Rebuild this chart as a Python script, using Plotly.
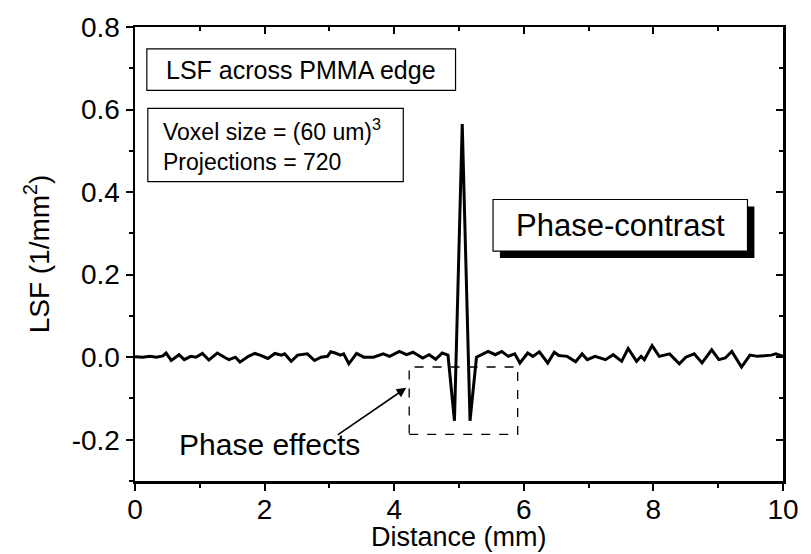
import plotly.graph_objects as go

# ---- data ----
distance_mm = [0.00, 0.12, 0.23, 0.33, 0.43, 0.48, 0.56, 0.68, 0.76, 0.86, 0.94,
               1.04, 1.14, 1.27, 1.40, 1.45, 1.55, 1.62, 1.75, 1.85, 1.95,
               2.05, 2.16, 2.26, 2.31, 2.41, 2.51, 2.56, 2.66, 2.77, 2.87, 2.97,
               3.02, 3.09, 3.17, 3.22, 3.30, 3.42, 3.53, 3.68, 3.78, 3.83, 3.93,
               4.08, 4.19, 4.29, 4.44, 4.54, 4.64, 4.74, 4.83, 4.93,
               5.05, 5.17, 5.27, 5.35, 5.45, 5.56, 5.66, 5.76, 5.86, 5.94,
               6.06, 6.14, 6.24, 6.37, 6.47, 6.54, 6.67, 6.80, 6.90, 6.98,
               7.10, 7.26, 7.38, 7.51, 7.61, 7.74, 7.81, 7.86, 7.98,
               8.09, 8.25, 8.40, 8.50, 8.63, 8.75, 8.90,
               9.01, 9.11, 9.21, 9.36, 9.49, 9.61, 9.82, 9.89, 10.00]
lsf = [0.001, 0.000, 0.002, 0.000, 0.003, 0.010, -0.008, 0.006, -0.006, 0.002, 0.000,
       0.009, -0.007, 0.010, -0.002, -0.006, 0.000, -0.012, 0.002, 0.009, 0.004,
       -0.003, 0.009, 0.005, 0.008, -0.010, 0.005, 0.006, 0.008, -0.008, 0.000, 0.002,
       0.013, 0.010, 0.005, 0.008, -0.016, 0.009, 0.000, 0.000, 0.006, 0.008, 0.002,
       0.014, 0.006, 0.012, -0.002, 0.006, -0.005, 0.010, 0.005, -0.154,
       0.565, -0.154, 0.000, 0.006, 0.014, 0.006, 0.014, 0.002, 0.008, -0.014,
       0.010, 0.002, 0.013, -0.014, 0.012, 0.004, 0.002, -0.011, 0.008, -0.006,
       0.002, -0.006, 0.006, -0.010, 0.021, -0.010, 0.002, -0.006, 0.028,
       0.002, 0.008, -0.016, 0.000, 0.008, -0.014, 0.018,
       -0.006, -0.002, 0.014, -0.024, 0.005, 0.002, 0.005, 0.008, 0.002]

x_ticks = [0, 2, 4, 6, 8, 10]
x_tick_labels = ["0", "2", "4", "6", "8", "10"]
y_ticks = [-0.2, 0.0, 0.2, 0.4, 0.6, 0.8]
y_tick_labels = ["-0.2", "0.0", "0.2", "0.4", "0.6", "0.8"]

# ---- layout geometry (pixels) ----
W, H = 811, 554
L, R, T, B = 135, 792, 23, 481
FONT = "Liberation Sans, Arial, sans-serif"
TICK_SIZE = 28


def px(x):
    return (x - L) / (R - L)


def py(y):
    return (B - y) / (B - T)


fig = go.Figure()
fig.add_trace(go.Scatter(x=distance_mm, y=lsf, mode="lines",
                         line=dict(color="black", width=3), showlegend=False,
                         hoverinfo="skip"))
fig.add_trace(go.Scatter(x=[None], y=[None], xaxis="x2", yaxis="y2",
                         showlegend=False, hoverinfo="skip"))

axis_common = dict(showgrid=False, zeroline=False, showline=True,
                   linecolor="black", linewidth=2.5, tickcolor="black",
                   tickwidth=2, ticklen=7)

fig.update_layout(
    width=W, height=H,
    margin=dict(l=L, r=W - R, t=T, b=H - B),
    paper_bgcolor="white", plot_bgcolor="white",
    font=dict(family=FONT, color="black", size=TICK_SIZE),
    xaxis=dict(range=[0, 10], tickvals=x_ticks, ticktext=x_tick_labels,
               ticks="outside", tickfont=dict(size=TICK_SIZE),
               ticklabelstandoff=-5,
               minor=dict(dtick=1, tick0=0, ticks="outside", ticklen=4,
                          tickwidth=2, tickcolor="black"),
               **axis_common),
    yaxis=dict(range=[-0.3, 0.8], tickvals=y_ticks, ticktext=y_tick_labels,
               ticks="outside", tickfont=dict(size=TICK_SIZE),
               minor=dict(dtick=0.1, tick0=0, ticks="outside", ticklen=4,
                          tickwidth=2, tickcolor="black"),
               title=dict(text="LSF (1/mm<sup>2</sup>)",
                          font=dict(size=TICK_SIZE), standoff=14),
               **axis_common),
    xaxis2=dict(range=[0, 10], overlaying="x", side="top", anchor="y",
                tickvals=x_ticks, showticklabels=False, ticks="inside",
                minor=dict(dtick=1, tick0=0, ticks="inside", ticklen=4,
                           tickwidth=2, tickcolor="black"),
                **axis_common),
    yaxis2=dict(range=[-0.3, 0.8], overlaying="y", side="right", anchor="x",
                tickvals=y_ticks, showticklabels=False, ticks="inside",
                minor=dict(dtick=0.1, tick0=0, ticks="inside", ticklen=4,
                           tickwidth=2, tickcolor="black"),
                **axis_common),
)

shapes = []
# LSF across PMMA edge box
shapes.append(dict(type="rect", xref="paper", yref="paper",
                   x0=px(147), x1=px(460), y0=py(87), y1=py(45),
                   line=dict(color="black", width=1.2), fillcolor="white"))
# Voxel box
shapes.append(dict(type="rect", xref="paper", yref="paper",
                   x0=px(148), x1=px(407), y0=py(179), y1=py(105),
                   line=dict(color="black", width=1.2), fillcolor="white"))
# Phase-contrast shadow + box
shapes.append(dict(type="rect", xref="paper", yref="paper",
                   x0=px(505), x1=px(763), y0=py(256), y1=py(204),
                   line=dict(width=0), fillcolor="black"))
shapes.append(dict(type="rect", xref="paper", yref="paper",
                   x0=px(498), x1=px(756), y0=py(249), y1=py(197),
                   line=dict(color="black", width=1.2), fillcolor="white"))
# dashed box around phase effects
shapes.append(dict(type="rect", xref="paper", yref="paper",
                   x0=px(413), x1=px(523), y0=py(434), y1=py(366),
                   line=dict(color="black", width=1.3, dash="dash")))
fig.update_layout(shapes=shapes)

ann = []
ann.append(dict(xref="paper", yref="paper", x=0.5, y=py(555),
                text="Distance (mm)", showarrow=False,
                font=dict(size=27), xanchor="center", yanchor="bottom"))
ann.append(dict(xref="paper", yref="paper", x=px(303.5), y=py(66),
                text="LSF across PMMA edge", showarrow=False,
                font=dict(size=25), xanchor="center", yanchor="middle"))
ann.append(dict(xref="paper", yref="paper", x=px(161), y=py(142),
                text="Voxel size = (60 um)<sup>3</sup><br>Projections = 720",
                showarrow=False, align="left",
                font=dict(size=23), xanchor="left", yanchor="middle"))
ann.append(dict(xref="paper", yref="paper", x=px(627), y=py(223),
                text="Phase-contrast", showarrow=False,
                font=dict(size=31), xanchor="center", yanchor="middle"))
ann.append(dict(xref="paper", yref="paper", x=px(178), y=py(444),
                text="Phase effects", showarrow=False,
                font=dict(size=30), xanchor="left", yanchor="middle"))
ann.append(dict(xref="paper", yref="paper", axref="pixel", ayref="pixel",
                x=px(410), y=py(387), ax=-70, ay=48, text="",
                showarrow=True, arrowhead=2, arrowsize=1.2, arrowwidth=1.6,
                arrowcolor="black", standoff=0))
fig.update_layout(annotations=ann)

fig.write_html("out.html",
               config={"displayModeBar": False, "staticPlot": True},
               post_script="document.body.style.margin='0';"
                           "document.body.style.overflow='hidden';")
